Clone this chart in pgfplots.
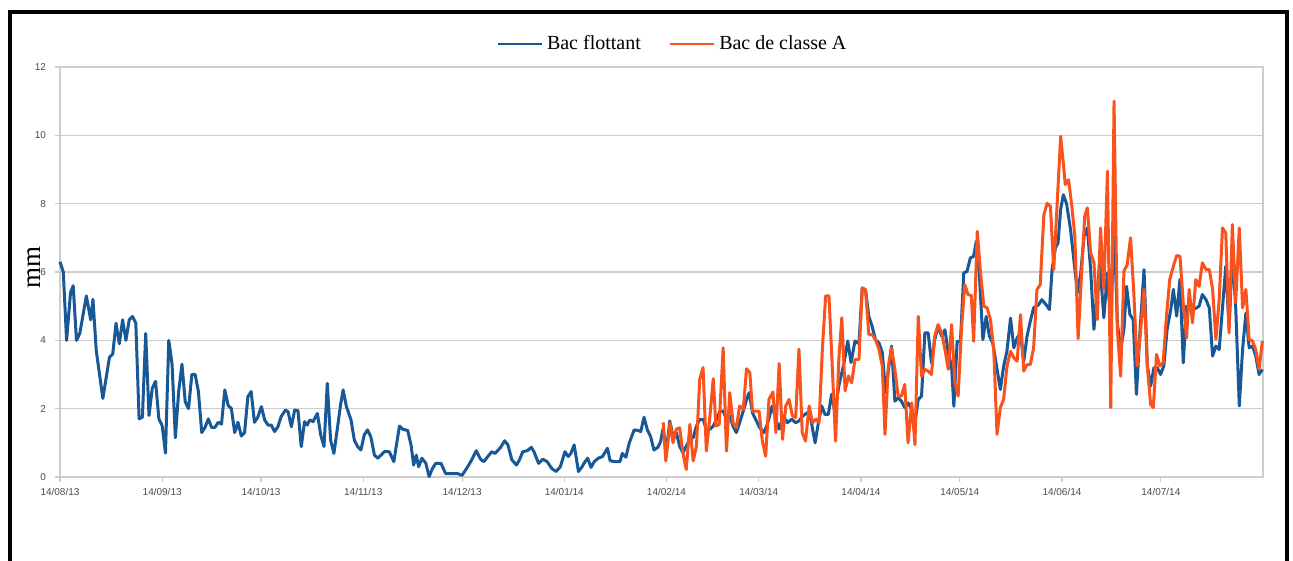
\documentclass[border=0pt]{standalone}
\usepackage{fontspec}
\setmainfont{Liberation Serif}
\newfontfamily\arial{Liberation Sans}
\usepackage{pgfplots}
\pgfplotsset{compat=1.18}
\definecolor{bacblue}{RGB}{24,88,150}
\definecolor{bacorange}{RGB}{250,82,28}
\definecolor{gridgray}{RGB}{205,205,205}
\begin{document}
\begin{tikzpicture}
\path[use as bounding box] (0,0) rectangle (646.5pt,280.5pt);
\fill[white] (0,0) rectangle (646.5pt,280.5pt);
\begin{axis}[
  at={(30pt,42pt)}, anchor=south west,
  width=601.5pt, height=205pt, scale only axis,
  xmin=0, xmax=365, ymin=0, ymax=12,
  ytick={0,2,4,6,8,10,12},
  xtick={0,31,61,92,122,153,184,212,243,273,304,334},
  xticklabels={14/08/13,14/09/13,14/10/13,14/11/13,14/12/13,14/01/14,14/02/14,14/03/14,14/04/14,14/05/14,14/06/14,14/07/14},
  ymajorgrids,
  grid style={gridgray, line width=0.6pt},
  axis line style={gridgray, line width=0.6pt},
  tick style={gridgray, line width=0.6pt},
  tick align=outside, major tick length=2.5pt,
  tick pos=left,
  /pgf/number format/assume math mode=true,
  tick label style={font=\arial\fontsize{5}{6}\selectfont, text=black!70},
  xticklabel style={yshift=0.5pt},
  yticklabel style={xshift=-1pt},
  ylabel={mm},
  ylabel style={at={(axis description cs:-0.0216,0.51)}, anchor=center, rotate=0, font=\fontsize{13.5}{14}\selectfont},
  legend style={at={(axis description cs:0.51,1.056)}, anchor=center, draw=none, fill=none,
    font=\fontsize{10}{12}\selectfont, /tikz/every even column/.append style={column sep=12pt}},
  legend columns=2,
  legend image code/.code={\draw[#1, line width=1.2pt] (0pt,0pt) -- (22pt,0pt);},
  clip=false,
]
\addplot[bacblue, line width=1.5pt, line join=round] coordinates {
(0,6.3)(1,6.0)(2,4.0)(3.2,5.4)(4,5.6)(5,4.0)(6,4.2)(8,5.3)(9.3,4.6)(10,5.2)
(11,3.7)(13,2.3)(15,3.5)(16,3.6)(17,4.5)(18,3.9)(19,4.6)(20,4.0)(21,4.6)(22,4.7)
(23,4.5)(24,1.7)(25,1.75)(26,4.2)(27,1.8)(28,2.6)(29,2.8)(30,1.7)(31,1.5)(32,0.7)
(33,4.0)(34,3.3)(35,1.15)(36,2.5)(37,3.3)(38,2.2)(39,2.0)(40,3.0)(41,3.0)(42,2.5)
(43,1.3)(44,1.45)(45,1.7)(46,1.45)(47,1.45)(48,1.6)(49,1.55)(50,2.55)(51,2.1)(52,2.0)
(53,1.3)(54,1.6)(55,1.2)(56,1.3)(57,2.35)(58,2.5)(59,1.6)(60,1.75)
(61.1,2.06)(62.1,1.67)(63.1,1.52)(64.1,1.52)(65.1,1.33)(66.1,1.47)(67.1,1.77)(68.4,1.96)(69.2,1.91)(70.2,1.47)
(71.2,1.96)(72.2,1.94)(73.2,0.89)(74.2,1.62)(75,1.52)(75.8,1.67)(76.8,1.62)(77.3,1.72)(78.1,1.86)(79.1,1.23)
(80.1,0.89)(81.1,2.74)(82.1,1.08)(83.1,0.69)(84.1,1.38)(85.1,2.1)(85.9,2.55)(86.9,2.06)(88.3,1.67)(89.3,1.08)
(90.3,0.89)(91.3,0.79)(92.3,1.23)(93.3,1.38)(94.3,1.18)(95.4,0.64)(96.4,0.55)(97.4,0.64)(98.4,0.74)(99.9,0.74)
(101.3,0.45)(102,0.89)(103,1.49)(104,1.4)(105.5,1.36)(106.5,0.94)(107.3,0.35)(108.1,0.64)(108.8,0.3)(109.8,0.55)
(111,0.4)(112,0.01)(113,0.25)(114,0.4)(115.6,0.4)(117,0.1)(118.6,0.1)(120.6,0.1)(122,0.05)
(123.7,0.3)(124.9,0.5)(126.3,0.77)(127.6,0.52)(128.6,0.45)(129.8,0.6)(131,0.74)(132,0.69)(133.7,0.87)(134.9,1.06)
(135.9,0.94)(137.1,0.5)(138.5,0.35)(139.4,0.5)(140.4,0.74)(141.8,0.77)(143,0.87)(143.8,0.74)(145.2,0.4)(146.5,0.52)
(147.8,0.45)(149.2,0.25)(150.5,0.16)(151.8,0.3)(153.2,0.74)(154.2,0.6)(155,0.69)(156,0.94)(157.3,0.16)(158.4,0.3)
(159.3,0.45)(160.1,0.55)(161.1,0.28)(162.1,0.45)(163.3,0.55)(164.6,0.6)(166.1,0.84)(166.9,0.48)(168.1,0.45)(169.9,0.45)
(170.6,0.69)(171.7,0.58)(172.7,0.99)(174.2,1.38)(175.4,1.36)(176.2,1.33)(177.2,1.75)(178.2,1.38)(179.2,1.18)(180.2,0.79)
(181.4,0.87)(182.2,1.03)(183,1.42)
(184,0.76)(185,1.64)(186,1.2)(187,1.3)(188,0.9)(189,0.71)(190,0.9)(191.1,1.1)(192.1,1.15)(193.1,1.49)
(194.1,1.69)(195.1,1.69)(196.1,1.4)(197.2,1.4)(198.2,1.49)(199.2,1.69)(200.2,1.93)(201.2,1.93)(202.2,1.69)(203.2,1.79)
(204.2,1.49)(205.2,1.3)(206.2,1.59)(207.3,1.93)(208.3,2.27)(209.1,2.47)(210.1,1.88)(211.3,1.64)(212.3,1.44)(213.6,1.3)
(214.6,1.54)(216.1,2.08)(217.2,1.69)(218.2,1.4)(219.4,1.79)(220.7,1.59)(222,1.69)(223.2,1.59)(224.2,1.64)(225.4,1.79)
(226.7,1.88)(227.8,1.69)(229.1,1.0)(230.1,1.59)(231.1,2.08)(232.1,1.83)(233.1,1.83)(234.1,2.42)(235.1,1.9)(236.3,2.66)
(237.9,3.35)(239,3.98)(240,3.35)(241.2,3.98)(242.4,3.9)(243.4,5.53)(244.4,5.48)
(245.4,4.7)(246.4,4.41)(247.4,4.02)(248.5,3.92)(249.5,3.63)(250.5,2.46)(251.5,3.24)(252.3,3.83)(253.3,2.22)(254.3,2.32)
(255.3,2.22)(256.3,2.03)(257.3,2.17)(258.4,1.98)(259.4,1.59)(260.4,2.27)(261.4,2.37)(262.4,4.22)(263.4,4.22)(264.4,3.34)
(265.4,4.02)(266.4,4.41)(267.5,4.12)(268.5,4.31)(269.5,3.63)(270.5,3.24)(271.2,2.07)(272.2,3.97)(273.2,3.97)(274.2,5.97)
(275.2,6.02)(276.2,6.41)(277.2,6.46)(278,6.9)(279,5.82)(280,4.02)(281,4.7)(282,4.12)(283,3.92)(284,3.34)
(285.3,2.56)(286.3,3.24)(287.3,3.68)(288.4,4.65)(289.4,3.78)(290.4,4.07)(291.4,4.22)(292.4,3.39)(293.4,4.12)(294.4,4.56)
(295.4,4.95)(296.9,5.04)(297.9,5.19)(299.2,5.04)(300.2,4.9)(301,6.07)(302,6.7)(302.8,6.85)(303.6,7.83)(304.4,8.26)
(305.4,8.0)(306.6,7.24)(307.7,6.27)(308.7,5.39)(309.7,5.97)(310.7,7.05)(311.7,7.29)(312.7,6.07)(313.7,4.32)(314.5,5.29)
(315.5,6.27)(316.7,4.66)(317.8,5.97)(318.8,4.51)(319.8,7.44)(320.8,4.51)(321.8,3.73)(322.8,4.32)(323.6,5.58)(324.6,4.76)
(325.6,4.61)(326.6,2.42)(327.7,4.32)(328.9,6.07)(329.9,3.25)(330.9,2.66)(331.9,3.2)(332.9,3.2)(333.9,3.0)(334.9,3.25)
(335.9,4.32)(337,4.9)(337.8,5.49)(338.8,4.71)(339.8,5.78)(340.8,3.34)(341.8,5.0)(342.8,4.9)(343.8,4.9)(344.8,4.95)
(345.6,5.0)(346.6,5.34)(347.7,5.19)(348.7,4.95)(349.7,3.54)(350.7,3.83)(351.7,3.73)(352.7,4.95)(353.7,6.17)(354.7,4.37)
(355.7,6.56)(356.7,5.0)(357.8,2.08)(358.8,3.73)(359.8,4.8)(360.8,3.78)(361.8,3.83)(362.8,3.54)(363.8,3.0)(364.8,3.15)
};
\addlegendentry{Bac flottant}
\addplot[bacorange, line width=1.5pt, line join=round] coordinates {
(183,1.6)(183.8,0.47)(185.1,1.59)(186,1.0)(187,1.4)(188,1.44)(189,0.71)(190,0.22)(191.1,1.54)(192.1,0.47)
(193.1,0.9)(194.1,2.86)(195.1,3.2)(196.1,0.76)(197.2,1.79)(198.2,2.88)(199,1.49)(200,1.54)(201.2,3.78)(202.2,0.76)
(203.2,2.47)(204.2,1.59)(205.2,1.44)(206.2,2.08)(207.3,1.98)(208.3,3.17)(209.3,3.05)(210.1,1.93)(212.1,1.93)(213.1,1.05)
(214.1,0.61)(215.1,2.27)(216.3,2.49)(217.2,1.3)(218.2,3.32)(219.2,1.1)(220.2,2.08)(221.2,2.27)(222.2,1.79)(223.2,1.74)
(224.2,3.74)(225.2,1.3)(226.2,1.05)(227.3,2.08)(228.3,1.59)(229.3,1.69)(230.3,1.59)(231.3,3.74)(232.3,5.3)(233.3,5.3)
(234.3,3.25)(235.3,1.05)(236.3,3.44)(237.2,4.66)(238.2,2.52)(239.2,2.96)(240.2,2.76)(241.2,3.44)(242.4,3.44)(243.4,5.53)
(244.4,5.48)(245.4,4.17)(246.4,4.17)(247.4,4.02)(248.5,3.73)(249.5,3.24)(250.3,1.25)(251.3,3.24)(252.3,3.78)(253.3,3.15)
(254.3,2.37)(255.3,2.37)(256.3,2.71)(257.3,1.0)(258.4,2.17)(259.4,0.95)(260.4,4.7)(261.4,2.95)(262.4,3.15)(263.4,3.1)
(264.4,3.0)(265.4,4.12)(266.4,4.46)(267.5,4.22)(268.5,3.73)(269.5,3.15)(270.5,4.46)(271.5,2.76)(272.5,2.37)(273.5,4.31)
(274.5,5.63)(275.5,5.34)(276.5,5.31)(277.2,3.97)(278.3,7.19)(279.3,5.97)(280.3,5.0)(281.3,4.95)(282.3,4.61)(283.3,3.73)
(284.3,1.25)(285.3,2.03)(286.3,2.27)(287.3,3.24)(288.4,3.68)(289.4,3.49)(290.4,3.39)(291.4,4.75)(292.4,3.1)(293.4,3.29)
(294.4,3.29)(295.4,3.78)(296.4,5.48)(297.4,5.63)(298.5,7.67)(299.5,8.01)(300.5,7.92)(301.5,6.07)(302.5,7.92)(303.6,9.97)
(304.4,9.19)(305,8.56)(306,8.7)(307,7.92)(307.9,7.05)(308.9,4.05)(309.9,5.88)(310.9,7.63)(311.7,7.88)(312.7,6.56)
(313.7,6.27)(314.7,4.61)(315.7,7.29)(316.7,5.49)(317.8,8.95)(318.8,2.03)(319.8,11.0)(320.8,4.32)(321.8,2.95)(322.8,6.02)
(323.8,6.22)(324.8,7.0)(325.8,5.39)(326.8,3.25)(327.9,4.32)(328.9,5.49)(329.9,3.25)(330.9,2.12)(331.7,2.03)(332.7,3.59)
(333.7,3.25)(334.7,3.34)(335.7,4.71)(336.7,5.78)(337.8,6.17)(338.8,6.48)(339.8,6.46)(340.8,5.1)(341.8,4.07)(342.6,5.49)
(343.6,4.51)(344.6,5.78)(345.6,5.58)(346.6,6.27)(347.7,6.07)(348.7,6.07)(349.7,5.49)(350.7,4.03)(351.7,5.19)(352.7,7.29)
(353.7,7.14)(354.7,4.22)(355.7,7.39)(356.7,5.1)(357.8,7.29)(358.8,4.95)(359.8,5.49)(360.8,4.03)(361.8,3.98)(362.8,3.73)
(363.8,3.15)(364.8,3.98)
};
\addlegendentry{Bac de classe A}
\end{axis}
\draw[line width=1.8pt, black] (5pt,0pt) -- (5pt,274.5pt) -- (643.5pt,274.5pt) -- (643.5pt,0pt);
\end{tikzpicture}
\end{document}
